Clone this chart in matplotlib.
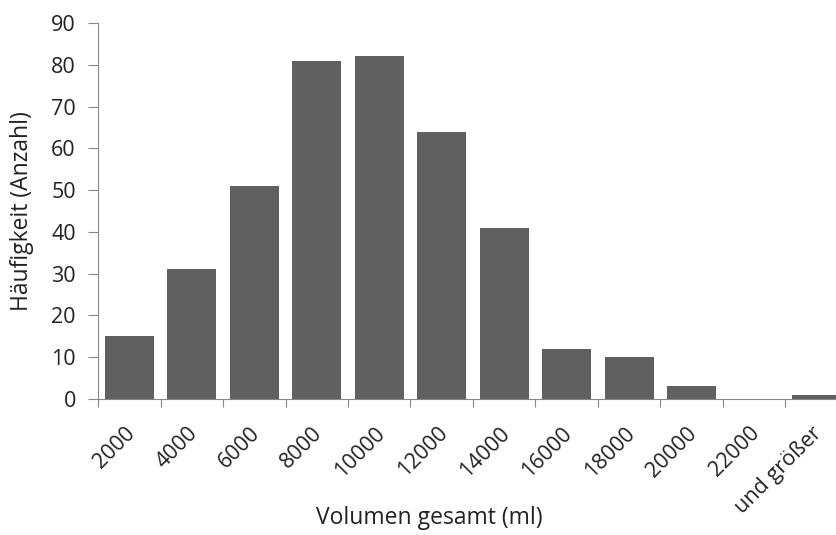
import numpy as np
import matplotlib.pyplot as plt
from matplotlib.transforms import ScaledTranslation

# Klassen (Obergrenzen) und Häufigkeiten
klassen = ['2000', '4000', '6000', '8000', '10000', '12000', '14000',
           '16000', '18000', '20000', '22000', 'und größer']
haeufigkeit = [15, 31, 51, 81, 82, 64, 41, 12, 10, 3, 0, 1]

plt.rcParams['font.family'] = ['Open Sans', 'DejaVu Sans']
plt.rcParams['text.color'] = '#222222'

fig = plt.figure(figsize=(8.37, 5.35), dpi=100)
# axes reicht rechts über den Bildrand hinaus
ax = fig.add_axes([0.1171, 0.2542, 0.896, 0.7028])

pos = np.arange(len(klassen))
ax.bar(pos, haeufigkeit, width=0.78, color='#606060', zorder=2)

ax.set_xlim(-0.5, len(klassen) - 0.5)
ax.set_ylim(0, 90)
ax.set_yticks(range(0, 91, 10))

# Striche an den Klassengrenzen, Beschriftung in der Mitte
ax.set_xticks(np.arange(-0.5, len(klassen), 1.0))
ax.set_xticklabels([])
ax.set_xticks(pos, minor=True)
ax.set_xticklabels(klassen, minor=True, rotation=45, ha='right',
                   rotation_mode='anchor', fontsize=15.5, color='#222222')
ax.tick_params(axis='x', which='minor', length=0, pad=17)
ax.tick_params(axis='x', which='major', length=6, color='#868686')
ax.tick_params(axis='y', length=7, color='#868686', labelsize=15.5,
               labelcolor='#222222', pad=9)

# Beschriftungen leicht nach links verschieben
shift = ScaledTranslation(-5 / 100, 0, fig.dpi_scale_trans)
for lbl in ax.get_xticklabels(minor=True):
    lbl.set_transform(lbl.get_transform() + shift)

for s in ['top', 'right']:
    ax.spines[s].set_visible(False)
for s in ['left', 'bottom']:
    ax.spines[s].set_color('#868686')

fig.text(429 / 837, 1 - 518 / 535, 'Volumen gesamt (ml)', fontsize=16.5,
         ha='center', va='center')
fig.text(22 / 837, 1 - 211 / 535, 'Häufigkeit (Anzahl)', fontsize=16.5,
         ha='center', va='center', rotation=90)

fig.savefig('out.png', dpi=100)
